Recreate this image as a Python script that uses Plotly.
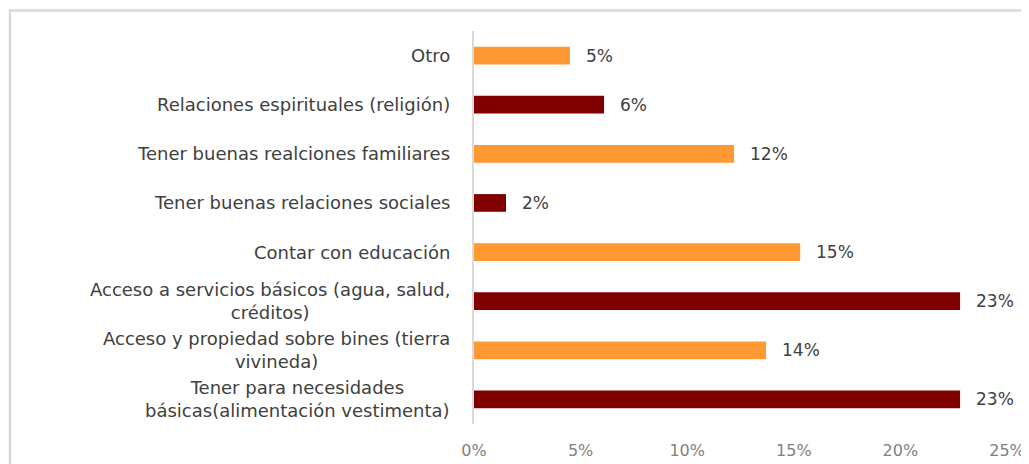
import plotly.graph_objects as go

# Categories listed bottom -> top
categories = [
    "Tener para necesidades<br>básicas(alimentación vestimenta)",
    "Acceso y propiedad sobre bines (tierra<br>vivineda)",
    "Acceso a servicios básicos (agua, salud,<br>créditos)",
    "Contar con educación",
    "Tener buenas relaciones sociales",
    "Tener buenas realciones familiares",
    "Relaciones espirituales (religión)",
    "Otro",
]
values = [22.8, 13.7, 22.8, 15.3, 1.5, 12.2, 6.1, 4.5]
value_labels = ["23%", "14%", "23%", "15%", "2%", "12%", "6%", "5%"]
bar_colors = ["#800000", "#FF9933", "#800000", "#FF9933",
              "#800000", "#FF9933", "#800000", "#FF9933"]
x_ticks = [0, 5, 10, 15, 20, 25]
x_tick_labels = ["0%", "5%", "10%", "15%", "20%", "25%"]

FONT = "DejaVu Sans"
OFF = 8  # page body margin
W, H = 1029 - OFF, 464 - OFF
ML, MR, MT, MB = 474 - OFF, 22, 31 - OFF, 40
pw = W - ML - MR
ph = H - MT - MB

fig = go.Figure()
fig.add_trace(go.Bar(
    y=list(range(len(categories))),
    x=values,
    orientation="h",
    marker=dict(color=bar_colors, line=dict(width=0)),
    width=0.36,
    hoverinfo="skip",
))

annotations = []
for i, (cat, v, lab) in enumerate(zip(categories, values, value_labels)):
    annotations.append(dict(
        x=0, xref="paper", y=i, yref="y",
        text=cat, showarrow=False, xanchor="right", yanchor="middle",
        align="center", xshift=-22,
        font=dict(family=FONT, size=18, color="#404040"),
    ))
    annotations.append(dict(
        x=v, xref="x", y=i, yref="y",
        text=lab, showarrow=False, xanchor="left", yanchor="middle",
        xshift=14,
        font=dict(family=FONT, size=17, color="#404040"),
    ))

fig.update_layout(
    width=W, height=H,
    margin=dict(l=ML, r=MR, t=MT, b=MB, autoexpand=False),
    paper_bgcolor="white", plot_bgcolor="white",
    showlegend=False,
    annotations=annotations,
    xaxis=dict(
        range=[0, 25], tickvals=x_ticks, ticktext=x_tick_labels,
        showgrid=False, zeroline=False, showline=False, ticks="",
        tickfont=dict(family=FONT, size=16, color="#7f7f7f"),
        ticklabelstandoff=15, automargin=False,
        fixedrange=True,
    ),
    yaxis=dict(
        range=[-0.5, 7.5], showticklabels=False, ticks="",
        showgrid=False, zeroline=False, automargin=False,
        showline=True, linecolor="#d9d9d9", linewidth=2,
        fixedrange=True,
    ),
    shapes=[dict(
        type="rect", xref="paper", yref="paper",
        x0=(10 - OFF - ML) / pw, x1=1.2,
        y0=-0.3, y1=1 + (MT - (10.5 - OFF)) / ph,
        line=dict(color="#d9d9d9", width=2.5),
        fillcolor="rgba(0,0,0,0)", layer="below",
    )],
)

fig.write_html("out.html", config={"displayModeBar": False})
